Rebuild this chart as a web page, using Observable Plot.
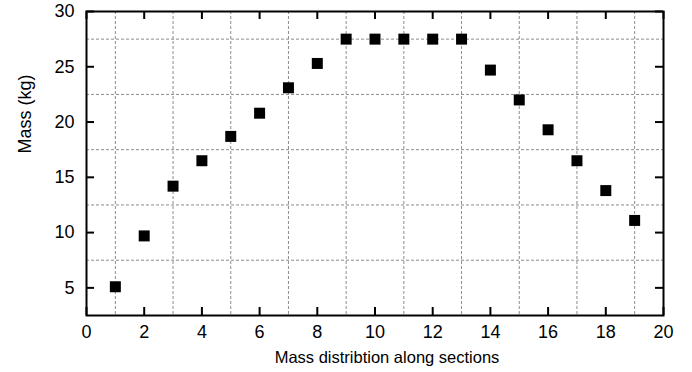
<!DOCTYPE html>
<html>
<head>
<meta charset="utf-8">
<script src="https://cdn.jsdelivr.net/npm/d3@7"></script>
<script src="https://cdn.jsdelivr.net/npm/@observablehq/plot@0.6"></script>
<style>
  html, body { margin: 0; padding: 0; background: #fff; }
  #chart svg { display: block; }
</style>
</head>
<body>
<div id="chart"></div>
<script>
// Mass per section
const sections = [1, 2, 3, 4, 5, 6, 7, 8, 9, 10, 11, 12, 13, 14, 15, 16, 17, 18, 19];
const massKg   = [5.1, 9.7, 14.2, 16.5, 18.7, 20.8, 23.1, 25.3, 27.5, 27.5, 27.5, 27.5, 27.5, 24.7, 22.0, 19.3, 16.5, 13.8, 11.1];

// Axis ticks and grid positions
const xTicks = [0, 2, 4, 6, 8, 10, 12, 14, 16, 18, 20];
const xGrid  = [1, 3, 5, 7, 9, 11, 13, 15, 17, 19];
const yTicks = [5, 10, 15, 20, 25, 30];
const yGrid  = [7.5, 12.5, 17.5, 22.5, 27.5];

const xLabel = "Mass distribtion along sections";
const yLabel = "Mass (kg)";

const data = sections.map((s, i) => ({section: s, mass: massKg[i]}));

const W = 692, H = 372;
const mLeft = 86, mRight = 29, mTop = 11, mBottom = 57;
const innerH = H - mTop - mBottom;
const innerW = W - mLeft - mRight;
const tickLen = 8;
const font = "Liberation Sans, Arial, sans-serif";

const chart = Plot.plot({
  width: W,
  height: H,
  marginLeft: mLeft,
  marginRight: mRight,
  marginTop: mTop,
  marginBottom: mBottom,
  style: {fontFamily: font, fontSize: "18px", color: "#000", background: "#fff"},
  x: {domain: [0, 20]},
  y: {domain: [2.5, 30]},
  marks: [
    // dotted grid between the major ticks
    Plot.ruleX(xGrid, {stroke: "#8c8c8c", strokeWidth: 1, strokeDasharray: "3,2"}),
    Plot.ruleY(yGrid, {stroke: "#8c8c8c", strokeWidth: 1, strokeDasharray: "3,2"}),
    // inward major ticks on all four sides
    Plot.ruleX(xTicks, {stroke: "#000", strokeWidth: 2, insetTop: innerH - tickLen}),
    Plot.ruleX(xTicks, {stroke: "#000", strokeWidth: 2, insetBottom: innerH - tickLen}),
    Plot.ruleY(yTicks, {stroke: "#000", strokeWidth: 2, insetRight: innerW - tickLen}),
    Plot.ruleY(yTicks, {stroke: "#000", strokeWidth: 2, insetLeft: innerW - tickLen}),
    // tick labels
    Plot.axisX(xTicks, {tickSize: 0, tickPadding: 10, label: null, fontSize: 18}),
    Plot.axisY(yTicks, {tickSize: 0, tickPadding: 12, label: null, fontSize: 18}),
    // axis titles
    Plot.text([xLabel], {frameAnchor: "bottom", dx: 12, dy: 47, fontSize: 16.5, text: d => d}),
    Plot.text([yLabel], {frameAnchor: "left", dx: -61, dy: -10, rotate: -90, fontSize: 18, text: d => d}),
    Plot.frame({stroke: "#000", strokeWidth: 2}),
    // section masses
    Plot.dot(data, {x: "section", y: "mass", symbol: "square", r: 6.2, fill: "#000", stroke: "none"})
  ]
});

document.getElementById("chart").appendChild(chart);
</script>
</body>
</html>
